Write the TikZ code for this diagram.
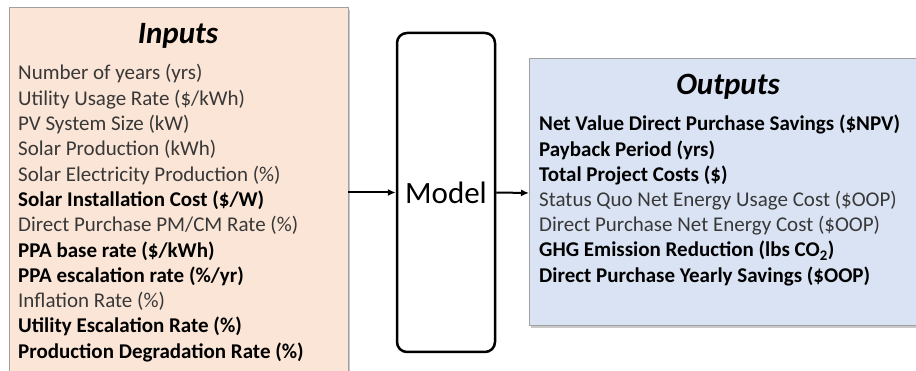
\documentclass[tikz,border=0pt]{standalone}
\usepackage{fontspec}
\setmainfont{Carlito}
\usetikzlibrary{shadows,arrows.meta}
\definecolor{inpfill}{HTML}{FBE5D6}
\definecolor{outfill}{HTML}{DAE3F3}
\definecolor{boxline}{HTML}{A0A0A0}
\definecolor{greytext}{HTML}{383838}
\tikzset{
  panel/.style={draw=boxline, line width=1pt, drop shadow={shadow xshift=2pt, shadow yshift=-2pt, opacity=0.35, fill=black!60}},
  title/.style={font=\fontsize{31}{36}\selectfont\bfseries\itshape, anchor=base},
  item/.style={font=\fontsize{21}{24}\selectfont, anchor=base west, inner sep=0pt, text=greytext},
  bitem/.style={item, font=\fontsize{21}{24}\selectfont\bfseries, text=black},
  modelbox/.style={draw=black, line width=2.5pt, rounded corners=10pt, minimum width=98pt, minimum height=319pt, fill=white, font=\fontsize{31}{36}\selectfont},
  conn/.style={line width=2pt, -{Latex[length=8pt,width=7pt]}}
}
\begin{document}
\begin{tikzpicture}[x=1pt,y=-1pt]
\useasboundingbox (0,0) rectangle (916,371);
\fill[white] (0,0) rectangle (916,371);
\begin{scope}
\clip (0,0) rectangle (916,371);
\path[panel, fill=inpfill] (9,8) rectangle (348,390);
\path[panel, fill=outfill] (529,59) rectangle (930,326);
\end{scope}
\coordinate (inR) at (348,192.5);
\coordinate (outL) at (529,193);
\node[title] (tin) at (178,44) {Inputs};
\node[item]  (i1)  at (18,80)    {Number of years (yrs)};
\node[item]  (i2)  at (18,105.3) {Utility Usage Rate (\$/kWh)};
\node[item]  (i3)  at (18,130.6) {PV System Size (kW)};
\node[item]  (i4)  at (18,155.9) {Solar Production (kWh)};
\node[item]  (i5)  at (18,181.2) {Solar Electricity Production (\%)};
\node[bitem] (i6)  at (18,206.5) {Solar Installation Cost (\$/W)};
\node[item]  (i7)  at (18,231.8) {Direct Purchase PM/CM Rate (\%)};
\node[bitem] (i8)  at (18,257.1) {PPA base rate (\$/kWh)};
\node[bitem] (i9)  at (18,282.4) {PPA escalation rate (\%/yr)};
\node[item]  (i10) at (18,307.7) {Inflation Rate (\%)};
\node[bitem] (i11) at (18,333.0) {Utility Escalation Rate (\%)};
\node[bitem] (i12) at (18,358.3) {Production Degradation Rate (\%)};
\node[modelbox] (model) at (446,192.5) {Model};
\node[title] (tout) at (728,95) {Outputs};
\node[bitem] (o1) at (539,131)   {Net Value Direct Purchase Savings (\$NPV)};
\node[bitem] (o2) at (539,156.2) {Payback Period (yrs)};
\node[bitem] (o3) at (539,181.4) {Total Project Costs (\$)};
\node[item]  (o4) at (539,206.6) {Status Quo Net Energy Usage Cost (\$OOP)};
\node[item]  (o5) at (539,231.8) {Direct Purchase Net Energy Cost (\$OOP)};
\node[bitem] (o6) at (539,257.0) {GHG Emission Reduction (lbs CO\textsubscript{2})};
\node[bitem] (o7) at (539,282.2) {Direct Purchase Yearly Savings (\$OOP)};
\draw[conn] (inR) -- (model.west);
\draw[conn] (model.east) -- (outL);
\end{tikzpicture}
\end{document}
